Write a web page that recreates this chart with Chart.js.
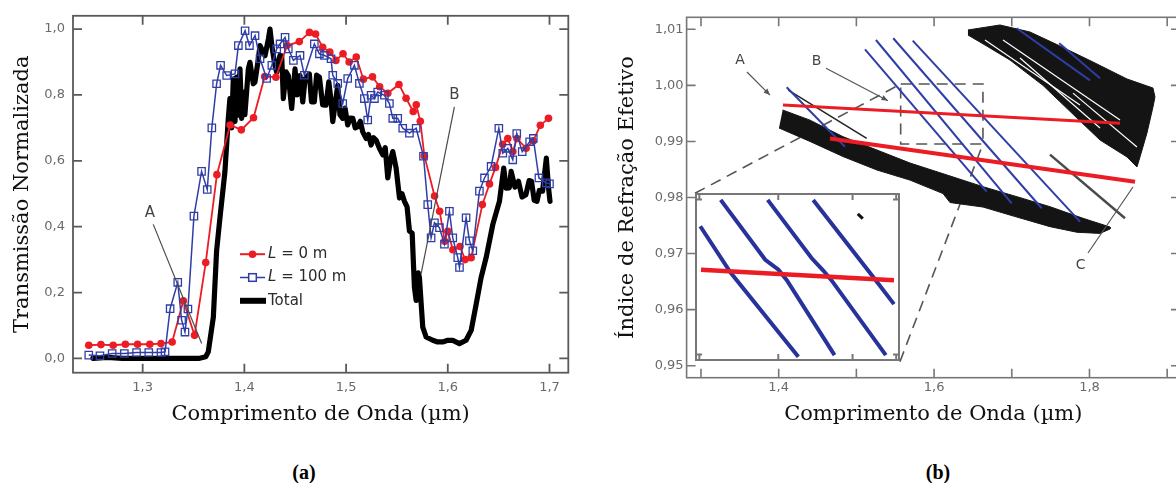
<!DOCTYPE html>
<html><head><meta charset="utf-8">
<script src="https://cdn.jsdelivr.net/npm/chart.js@4.4.1/dist/chart.umd.min.js"></script>
<style>
html,body{margin:0;padding:0;background:#fff;width:1176px;height:483px;overflow:hidden;}
#wrap{position:relative;width:1176px;height:483px;overflow:hidden;background:#fff;}
canvas{position:absolute;top:0;}
#ca{left:0;}
#cb{left:600px;}
.cap{position:absolute;top:461px;line-height:23px;font:bold 20px "Liberation Serif","DejaVu Serif",serif;color:#000;transform:translateX(-50%);}
</style></head><body>
<div id="wrap">
<canvas id="ca" width="590" height="440"></canvas>
<canvas id="cb" width="600" height="440"></canvas>
<canvas id="ci" width="10" height="10"></canvas>
<div class="cap" style="left:304px">(a)</div>
<div class="cap" style="left:938px">(b)</div>
</div>
<script>
// ================= Panel (a) data =================
const redWl = [1.247,1.259,1.271,1.283,1.295,1.307,1.318,1.329,1.340,1.351,1.362,1.373,1.386,1.397,1.409,1.420,1.431,1.442,1.454,1.464,1.470,1.477,1.484,1.490,1.497,1.503,1.510,1.517,1.526,1.533,1.541,1.552,1.559,1.566,1.569,1.573,1.577,1.587,1.592,1.597,1.600,1.605,1.612,1.617,1.623,1.634,1.641,1.647,1.654,1.659,1.664,1.668,1.677,1.684,1.691,1.699];
const redT = [0.040,0.042,0.040,0.043,0.043,0.043,0.045,0.050,0.175,0.070,0.291,0.558,0.709,0.694,0.731,0.856,0.854,0.950,0.962,0.990,0.985,0.945,0.930,0.905,0.925,0.900,0.915,0.848,0.855,0.825,0.805,0.832,0.790,0.750,0.770,0.720,0.615,0.493,0.447,0.356,0.386,0.330,0.340,0.300,0.306,0.467,0.530,0.580,0.650,0.668,0.628,0.668,0.638,0.660,0.708,0.729];

const blueWl = [1.247,1.258,1.270,1.282,1.294,1.306,1.318,1.322,1.327,1.3345,1.3383,1.3416,1.3445,1.3504,1.3579,1.3635,1.3680,1.3727,1.3766,1.3826,1.3908,1.3941,1.4007,1.4050,1.4105,1.4154,1.4219,1.4270,1.4318,1.4351,1.4400,1.4432,1.4482,1.4547,1.4590,1.4688,1.4738,1.4787,1.4852,1.4869,1.4918,1.4967,1.5016,1.5082,1.5131,1.5180,1.5213,1.5246,1.5279,1.5311,1.5377,1.5426,1.5459,1.5508,1.5557,1.5623,1.5689,1.5761,1.5803,1.5836,1.5869,1.5918,1.5967,1.6016,1.6049,1.6098,1.6115,1.6180,1.6213,1.6246,1.6311,1.6361,1.6426,1.6502,1.6541,1.6590,1.6639,1.6678,1.6732,1.6805,1.6841,1.6896,1.6969,1.7000];
const blueT = [0.010,0.008,0.015,0.015,0.018,0.018,0.018,0.020,0.151,0.231,0.116,0.080,0.150,0.432,0.568,0.513,0.700,0.834,0.890,0.859,0.864,0.950,0.995,0.950,0.980,0.910,0.850,0.890,0.940,0.955,0.975,0.940,0.905,0.920,0.860,0.955,0.925,0.920,0.910,0.860,0.835,0.774,0.850,0.890,0.835,0.789,0.724,0.799,0.789,0.809,0.799,0.774,0.729,0.729,0.699,0.684,0.699,0.614,0.467,0.366,0.412,0.397,0.347,0.447,0.366,0.306,0.276,0.427,0.357,0.327,0.508,0.548,0.583,0.699,0.623,0.638,0.603,0.683,0.628,0.658,0.668,0.548,0.533,0.530];

const totalWl = [1.251,1.265,1.280,1.300,1.330,1.355,1.362,1.3645,1.3695,1.3727,1.376,1.3809,1.3842,1.3858,1.3875,1.3891,1.3908,1.3924,1.3940,1.3957,1.3973,1.399,1.4005,1.4039,1.4055,1.4088,1.4104,1.4138,1.4153,1.4170,1.4203,1.4236,1.4252,1.4270,1.4300,1.4318,1.4350,1.4367,1.4383,1.4410,1.4432,1.4465,1.4498,1.4520,1.4547,1.4574,1.4597,1.4639,1.4660,1.4688,1.4710,1.4738,1.4770,1.4803,1.4830,1.4852,1.4869,1.4918,1.4940,1.4967,1.4990,1.5016,1.5040,1.5066,1.5090,1.5115,1.5140,1.5164,1.5197,1.5220,1.5246,1.5270,1.5295,1.5328,1.5361,1.5385,1.5410,1.5435,1.5459,1.5492,1.5525,1.5550,1.5574,1.5600,1.5623,1.5650,1.5672,1.5689,1.5710,1.5721,1.5754,1.5787,1.5852,1.5900,1.5950,1.6000,1.6049,1.6115,1.6180,1.6230,1.6280,1.6328,1.6377,1.6443,1.6508,1.6550,1.6574,1.6605,1.6623,1.6660,1.6695,1.6730,1.6768,1.6800,1.6823,1.6850,1.6877,1.6900,1.6932,1.6969,1.6990,1.7005];
const totalT = [0.000,0.003,0.000,0.000,0.000,0.000,0.005,0.020,0.125,0.327,0.427,0.568,0.729,0.789,0.700,0.849,0.720,0.854,0.739,0.879,0.729,0.809,0.740,0.879,0.899,0.834,0.839,0.910,0.950,0.940,0.919,0.970,1.000,0.950,0.890,0.869,0.920,0.919,0.789,0.870,0.859,0.759,0.879,0.800,0.859,0.779,0.849,0.864,0.779,0.779,0.860,0.854,0.770,0.769,0.840,0.784,0.719,0.829,0.740,0.729,0.760,0.709,0.730,0.729,0.700,0.704,0.720,0.688,0.668,0.680,0.648,0.670,0.663,0.638,0.618,0.640,0.548,0.600,0.628,0.578,0.487,0.500,0.477,0.460,0.387,0.380,0.216,0.176,0.260,0.246,0.095,0.065,0.055,0.050,0.050,0.055,0.055,0.045,0.055,0.085,0.166,0.246,0.306,0.407,0.477,0.578,0.517,0.518,0.568,0.520,0.538,0.490,0.497,0.540,0.538,0.480,0.477,0.510,0.508,0.608,0.520,0.477];

const aXTicks = [1.3,1.4,1.5,1.6,1.7];
const aYTicks = [0,0.2,0.4,0.6,0.8,1.0];
const seriesNames = ['L = 0 m','L = 100 m','Total'];

// ================= Panel (b) data =================
const bXTicks = [1.3,1.4,1.5,1.6,1.7,1.8,1.9];
const bYTicks = [0.95,0.96,0.97,0.98,0.99,1.00,1.01];
const redUpper = [[1.4055,0.9965],[1.8393,0.99324]];
const redLower = [[1.466,0.99052],[1.8586,0.98282]];
const blue0 = [[1.4103,0.99966],[1.4853,0.98906]];
const blue1 = [[1.5111,1.00643],[1.6677,0.98104]];
const blue2 = [[1.5252,1.00809],[1.6999,0.97897]];
const blue3 = [[1.5475,1.0084],[1.7385,0.97808]];
const blue4 = [[1.5725,1.00797],[1.7878,0.97569]];
const blueUp1 = [[1.7063,1.01018],[1.8006,1.0009]];
const blueUp2 = [[1.7611,1.0075],[1.8135,1.00126]];
const bandLow = [[1.4051,0.99561],[1.4403,0.99380],[1.4828,0.99085],[1.5265,0.98847],[1.5690,0.98615],[1.6205,0.98384],[1.6629,0.98193],[1.7067,0.98014],[1.7492,0.97836],[1.7917,0.97629],[1.8264,0.97474],
  [1.8264,0.97438],[1.8135,0.97360],[1.7839,0.97380],[1.7492,0.97480],[1.7067,0.97650],[1.6629,0.97830],[1.6205,0.97910],[1.6115,0.98070],[1.5690,0.98310],[1.5265,0.98490],[1.4828,0.98730],[1.4403,0.99000],[1.4004,0.99240]];
const bandHigh = [[1.6436,1.00988],[1.6848,1.01077],[1.7234,1.00952],[1.7620,1.00702],[1.8045,1.00417],[1.8483,1.00114],[1.8817,0.99953],[1.8843,0.99793],[1.8817,0.99614],[1.8740,0.99151],[1.8650,0.98723],[1.8611,0.98545],
  [1.8483,0.98723],[1.8135,0.99026],[1.7839,0.99417],[1.7401,1.00000],[1.6977,1.00452],[1.6655,1.0072],[1.6436,1.00898]];
const grayLine = [[1.7492,0.98764],[1.8457,0.97629]];
const thinLine = [[1.4124,0.99917],[1.5133,0.99056]];
const streak1 = [[1.6887,1.00809],[1.8393,0.99382]];
const streak2 = [[1.7788,0.99862],[1.8611,0.98901]];
const streak3 = [[1.6655,1.00809],[1.7878,0.99650]];
const streak4 = [[1.7106,1.00488],[1.8135,0.99240]];

// inset (zoom of dashed box)
const insetRed = [[1.5584,0.99526],[1.6623,0.9946]];
const insetBlue1 = [[1.5580,0.99798],[1.5744,0.99506],[1.6108,0.98981]];
const insetBlue2 = [[1.5690,0.99963],[1.5930,0.99588],[1.6001,0.99526],[1.6046,0.9946],[1.6303,0.98991]];
const insetBlue3 = [[1.5943,0.99963],[1.6179,0.99599],[1.6241,0.99522],[1.6286,0.9946],[1.6579,0.98991]];
const insetBlue4 = [[1.6188,0.99963],[1.6508,0.99485],[1.6623,0.9931]];
const insetDash = [[1.6428,0.99876],[1.6455,0.99846]];
const insetXTicks = [1.5575,1.6,1.64,1.6635];
const insetYTicks = [0.98995,0.99965];

// ================= helpers =================
Chart.defaults.font.family = '"DejaVu Sans", sans-serif';
Chart.defaults.animation = false;
const RED = '#ec1c24', BLUE = '#2f3ea6', TICK_C = '#6a6a6a';
const xy = (xs, ys) => xs.map((v, i) => ({x: v, y: ys[i]}));
const pts = p => p.map(([a, b]) => ({x: a, y: b}));
const comma = (v, d) => v.toFixed(d).replace('.', ',');
const fixedTicks = vals => s => { s.ticks = vals.map(v => ({value: v})); };

const boxTicks = {
  id: 'boxTicks',
  afterDatasetsDraw(chart, args, o) {
    const {ctx, chartArea: a, scales: {x, y}} = chart;
    ctx.save();
    ctx.strokeStyle = o.color; ctx.lineWidth = o.width;
    ctx.strokeRect(a.left, a.top, a.right - a.left, a.bottom - a.top);
    ctx.beginPath();
    (o.xTicks || []).forEach(v => {
      const p = x.getPixelForValue(v);
      ctx.moveTo(p, a.bottom); ctx.lineTo(p, a.bottom - o.len);
      ctx.moveTo(p, a.top); ctx.lineTo(p, a.top + o.len);
    });
    (o.yTicks || []).forEach(v => {
      const p = y.getPixelForValue(v);
      ctx.moveTo(a.left, p); ctx.lineTo(a.left + o.len, p);
      ctx.moveTo(a.right, p); ctx.lineTo(a.right - o.len, p);
    });
    ctx.stroke();
    ctx.restore();
  }
};

function seg(ctx, x1, y1, x2, y2) { ctx.beginPath(); ctx.moveTo(x1, y1); ctx.lineTo(x2, y2); ctx.stroke(); }
function arrowHead(ctx, x1, y1, x2, y2, s) {
  const ang = Math.atan2(y2 - y1, x2 - x1);
  ctx.beginPath();
  ctx.moveTo(x2, y2);
  ctx.lineTo(x2 - s * Math.cos(ang - 0.4), y2 - s * Math.sin(ang - 0.4));
  ctx.lineTo(x2 - s * Math.cos(ang + 0.4), y2 - s * Math.sin(ang + 0.4));
  ctx.closePath(); ctx.fill();
}

// legend + pointers for (a)
const annotA = {
  id: 'annotA',
  afterDatasetsDraw(chart) {
    const {ctx, chartArea: a, scales: {x, y}} = chart;
    const X = v => x.getPixelForValue(v), Y = v => y.getPixelForValue(v);
    ctx.save();
    ctx.strokeStyle = '#4a4a4a'; ctx.lineWidth = 1.2;
    seg(ctx, X(1.3104), Y(0.407), X(1.358), Y(0.045));
    seg(ctx, X(1.6065), Y(0.764), X(1.5737), Y(0.256));
    ctx.fillStyle = '#444'; ctx.font = '15px "DejaVu Sans"';
    ctx.textAlign = 'center'; ctx.textBaseline = 'middle';
    ctx.fillText('A', X(1.3072), Y(0.442));
    ctx.fillText('B', X(1.6065), Y(0.799));
    // legend
    const x0 = a.left + 167, x1 = a.left + 192, cx = (x0 + x1) / 2, tx = a.left + 195;
    const rows = [a.top + 238.4, a.top + 261.7, a.top + 285];
    ctx.strokeStyle = RED; ctx.lineWidth = 2; seg(ctx, x0, rows[0], x1, rows[0]);
    ctx.fillStyle = RED; ctx.beginPath(); ctx.arc(cx, rows[0], 3.8, 0, Math.PI * 2); ctx.fill();
    ctx.strokeStyle = BLUE; ctx.lineWidth = 1.5; seg(ctx, x0, rows[1], x1, rows[1]);
    ctx.fillStyle = '#fff'; ctx.fillRect(cx - 3.8, rows[1] - 3.8, 7.6, 7.6);
    ctx.strokeRect(cx - 3.8, rows[1] - 3.8, 7.6, 7.6);
    ctx.strokeStyle = '#000'; ctx.lineWidth = 6; seg(ctx, x0, rows[2], x1 + 1, rows[2]);
    ctx.fillStyle = '#2b2b2b'; ctx.textAlign = 'left';
    const names = chart.data.datasets.map(d => d.label); // blue, red, total
    const order = [names[1], names[0], names[2]];
    order.forEach((t, i) => {
      if (t.startsWith('L ')) {
        ctx.font = 'italic 15px "DejaVu Sans"';
        ctx.fillText('L', tx, rows[i]);
        const w = ctx.measureText('L').width;
        ctx.font = '15px "DejaVu Sans"';
        ctx.fillText(t.slice(1), tx + w, rows[i]);
      } else {
        ctx.font = '15px "DejaVu Sans"';
        ctx.fillText(t, tx, rows[i]);
      }
    });
    ctx.restore();
  }
};

// ================= Chart (a) =================
const chartA = new Chart(document.getElementById('ca'), {
  type: 'scatter',
  data: { datasets: [
    { label: seriesNames[1], data: xy(blueWl, blueT), showLine: true, borderColor: BLUE, borderWidth: 1.5,
      pointStyle: 'rect', pointRadius: 5.2, pointBorderColor: BLUE, pointBackgroundColor: 'rgba(255,255,255,0)', pointBorderWidth: 1.3, tension: 0 },
    { label: seriesNames[0], data: xy(redWl, redT), showLine: true, borderColor: RED, borderWidth: 1.8,
      pointStyle: 'circle', pointRadius: 3.8, pointBackgroundColor: RED, pointBorderWidth: 0, tension: 0 },
    { label: seriesNames[2], data: xy(totalWl, totalT), showLine: true, borderColor: '#000', borderWidth: 5.2,
      pointRadius: 0, borderJoinStyle: 'round', borderCapStyle: 'round', tension: 0 }
  ]},
  options: {
    responsive: false, animation: false, events: [],
    layout: { padding: { left: 10.4, top: 13.3, right: 21.7, bottom: 12.4 } },
    plugins: { legend: { display: false }, tooltip: { enabled: false },
      boxTicks: { color: '#5a5a5a', width: 1.8, len: 9, xTicks: aXTicks, yTicks: aYTicks } },
    scales: {
      x: { type: 'linear', min: 1.2315, max: 1.7185, afterBuildTicks: fixedTicks(aXTicks),
        afterFit: s => { s.height = 54.9; },
        grid: { display: false, drawTicks: false }, border: { display: false },
        ticks: { padding: 7, color: TICK_C, font: { size: 13 }, autoSkip: false, maxRotation: 0, callback: v => comma(v, 1) },
        title: { display: true, text: 'Comprimento de Onda (µm)', font: { family: '"DejaVu Serif", serif', size: 21 }, color: '#111', padding: 0 } },
      y: { type: 'linear', min: -0.0434, max: 1.0404, afterBuildTicks: fixedTicks(aYTicks),
        afterFit: s => { s.width = 62.6; },
        grid: { display: false, drawTicks: false }, border: { display: false },
        ticks: { padding: 8, color: TICK_C, font: { size: 13 }, autoSkip: false, callback: v => comma(v, 1) },
        title: { display: true, text: 'Transmissão Normalizada', font: { family: '"DejaVu Serif", serif', size: 21 }, color: '#111', padding: 0 } }
    }
  },
  plugins: [boxTicks, annotA]
});

// ================= Chart (b) =================
const INSET = { x0: 1.2923, x1: 1.5561, y0: 0.95072, y1: 0.98075 };
const BOX = { x0: 1.557, x1: 1.6629, y0: 0.98954, y1: 1.00024 };

const annotB = {
  id: 'annotB',
  beforeDatasetsDraw(chart) {
    const {ctx, scales: {x, y}} = chart;
    const X = v => x.getPixelForValue(v), Y = v => y.getPixelForValue(v);
    ctx.save();
    ctx.setLineDash([11, 7]); ctx.strokeStyle = '#555'; ctx.lineWidth = 1.6;
    ctx.strokeRect(X(BOX.x0), Y(BOX.y1), X(BOX.x1) - X(BOX.x0), Y(BOX.y0) - Y(BOX.y1));
    seg(ctx, X(INSET.x0), Y(INSET.y1), X(BOX.x0), Y(BOX.y1));
    seg(ctx, X(INSET.x1), Y(INSET.y0), X(BOX.x1), Y(BOX.y0));
    ctx.restore();
  },
  afterDatasetsDraw(chart) {
    const {ctx, scales: {x, y}} = chart;
    const X = v => x.getPixelForValue(v), Y = v => y.getPixelForValue(v);
    ctx.save();
    ctx.strokeStyle = '#555'; ctx.fillStyle = '#555'; ctx.lineWidth = 1.2;
    seg(ctx, X(1.3592), Y(1.00238), X(1.3888), Y(0.99827));
    arrowHead(ctx, X(1.3592), Y(1.00238), X(1.3888), Y(0.99827), 7);
    seg(ctx, X(1.4609), Y(1.00304), X(1.5407), Y(0.99727));
    arrowHead(ctx, X(1.4609), Y(1.00304), X(1.5407), Y(0.99727), 7);
    seg(ctx, X(1.7981), Y(0.97010), X(1.8560), Y(0.98187));
    ctx.fillStyle = '#444'; ctx.font = '14px "DejaVu Sans"';
    ctx.textAlign = 'center'; ctx.textBaseline = 'middle';
    ctx.fillText('A', X(1.3502), Y(1.00452));
    ctx.fillText('B', X(1.4489), Y(1.00422));
    ctx.fillText('C', X(1.7885), Y(0.96796));
    ctx.restore();
  }
};

const lineDs = (p, color, w) => ({ data: pts(p), showLine: true, borderColor: color, borderWidth: w, pointRadius: 0, tension: 0 });
const shapeDs = (p, color) => ({ data: pts(p), showLine: true, borderColor: color, backgroundColor: color, borderWidth: 1, pointRadius: 0, fill: 'shape', tension: 0 });

const chartB = new Chart(document.getElementById('cb'), {
  type: 'scatter',
  data: { datasets: [
    lineDs(redUpper, RED, 3), lineDs(redLower, RED, 4),
    lineDs(blue1, BLUE, 2), lineDs(blue2, BLUE, 2), lineDs(blue3, BLUE, 2), lineDs(blue4, BLUE, 2),
    lineDs(blue0, BLUE, 2), lineDs(blueUp1, BLUE, 2), lineDs(blueUp2, BLUE, 2),
    lineDs(grayLine, '#4a4a4a', 2.5), lineDs(thinLine, '#222', 1.5),
    lineDs(streak1, '#ffffff', 1.2), lineDs(streak2, '#ffffff', 1.2), lineDs(streak3, '#ffffff', 1.2), lineDs(streak4, '#ffffff', 1.2),
    shapeDs(bandHigh, '#141414'), shapeDs(bandLow, '#141414')
  ]},
  options: {
    responsive: false, animation: false, events: [],
    layout: { padding: { left: 14.9, top: 17.3, right: 20, bottom: 12.4 } },
    plugins: { legend: { display: false }, tooltip: { enabled: false },
      boxTicks: { color: '#777', width: 1.6, len: 9, xTicks: bXTicks, yTicks: bYTicks } },
    scales: {
      x: { type: 'linear', min: 1.2815, max: 1.9165, afterBuildTicks: fixedTicks(bXTicks),
        afterFit: s => { s.height = 49.9; },
        grid: { display: false, drawTicks: false }, border: { display: false },
        ticks: { padding: 2.5, color: TICK_C, font: { size: 13 }, autoSkip: false, maxRotation: 0,
          callback: v => (Math.round(v * 10) % 2 === 0 ? comma(v, 1) : '') },
        title: { display: true, text: 'Comprimento de Onda (µm)', font: { family: '"DejaVu Serif", serif', size: 21 }, color: '#111', padding: 0 } },
      y: { type: 'linear', min: 0.94786, max: 1.01214, afterBuildTicks: fixedTicks(bYTicks),
        afterFit: s => { s.width = 71.7; },
        grid: { display: false, drawTicks: false }, border: { display: false },
        ticks: { padding: 3, color: TICK_C, font: { size: 13 }, autoSkip: false, callback: v => comma(v, 2) },
        title: { display: true, text: 'Índice de Refração Efetivo', font: { family: '"DejaVu Serif", serif', size: 21 }, color: '#111', padding: 0 } }
    }
  },
  plugins: [boxTicks, annotB]
});

// ================= Inset =================
const xb = chartB.scales.x, yb = chartB.scales.y;
const iL = 600 + xb.getPixelForValue(INSET.x0), iR = 600 + xb.getPixelForValue(INSET.x1);
const iT = yb.getPixelForValue(INSET.y1), iB = yb.getPixelForValue(INSET.y0);
const ci = document.getElementById('ci');
ci.width = Math.round(iR - iL); ci.height = Math.round(iB - iT);
ci.style.left = Math.round(iL) + 'px'; ci.style.top = Math.round(iT) + 'px';

const whiteBg = { id: 'whiteBg', beforeDraw(chart) { const c = chart.ctx; c.save(); c.fillStyle = '#fff'; c.fillRect(0, 0, chart.width, chart.height); c.restore(); } };

new Chart(ci, {
  type: 'scatter',
  data: { datasets: [
    lineDs(insetRed, RED, 4.5),
    lineDs(insetBlue1, '#27339b', 4), lineDs(insetBlue2, '#27339b', 4), lineDs(insetBlue3, '#27339b', 4), lineDs(insetBlue4, '#27339b', 4),
    lineDs(insetDash, '#111', 3)
  ]},
  options: {
    responsive: false, animation: false, events: [],
    layout: { padding: 1 },
    plugins: { legend: { display: false }, tooltip: { enabled: false },
      boxTicks: { color: '#777', width: 2, len: 6, xTicks: insetXTicks, yTicks: insetYTicks } },
    scales: {
      x: { type: 'linear', min: 1.5557, max: 1.665, display: false },
      y: { type: 'linear', min: 0.9896, max: 1.0, display: false }
    }
  },
  plugins: [whiteBg, boxTicks]
});
</script>
</body></html>
